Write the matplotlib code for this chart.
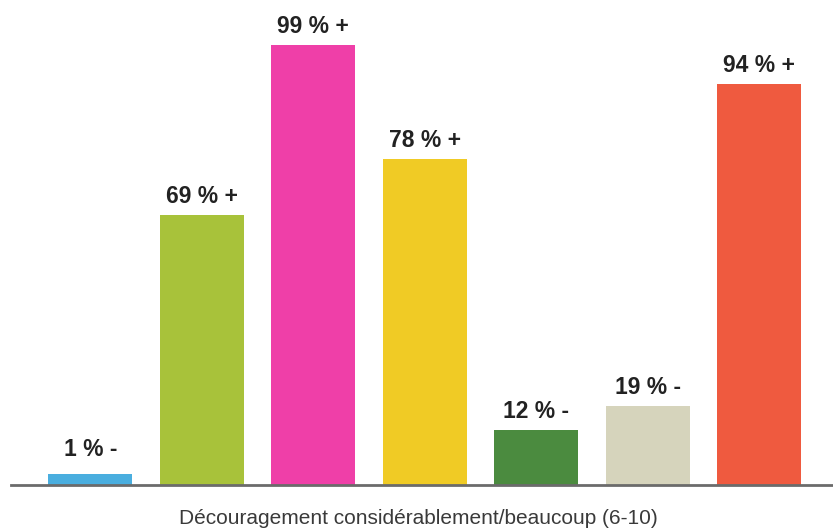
import matplotlib
matplotlib.use("Agg")
import matplotlib.pyplot as plt

categories = ["A", "B", "C", "D", "E", "F", "G"]
heights = [2.5, 61.4, 100, 74.1, 12.5, 18.0, 91.1]
labels = ["1 % -", "69 % +", "99 % +", "78 % +", "12 % -", "19 % -", "94 % +"]
colors = ["#4AAEDF", "#A8C23A", "#EF3FA8", "#F0CB25", "#4B8B3F", "#D6D4BC", "#EF5A3F"]
xlabel = "Découragement considérablement/beaucoup (6-10)"

fig = plt.figure(figsize=(8.33, 5.29), dpi=100)
ax = fig.add_axes([11/833, 44/529, 822/833, 485/529])
x = list(range(len(categories)))
ax.bar(x, heights, width=0.753, color=colors)
ax.set_xlim(-0.71, 6.66)
ax.set_ylim(0, 110.2)
for xi, h, lab in zip(x, heights, labels):
    off = 9 if h < 5 else 5
    ax.annotate(lab, (xi, h), xytext=(0, off), textcoords="offset points",
                ha="center", va="bottom", fontsize=16.5, fontweight="bold",
                color="#222222", family=["Liberation Sans", "DejaVu Sans"])
for s in ["top", "right", "left"]:
    ax.spines[s].set_visible(False)
ax.spines["bottom"].set_color("#6b6b6b")
ax.spines["bottom"].set_linewidth(2)
ax.set_xticks([])
ax.set_yticks([])
fig.text(418/833, 1/529, xlabel, ha="center", va="bottom", fontsize=15,
         color="#3a3a3a", family=["Liberation Sans", "DejaVu Sans"])
fig.savefig("out.png", dpi=100)
